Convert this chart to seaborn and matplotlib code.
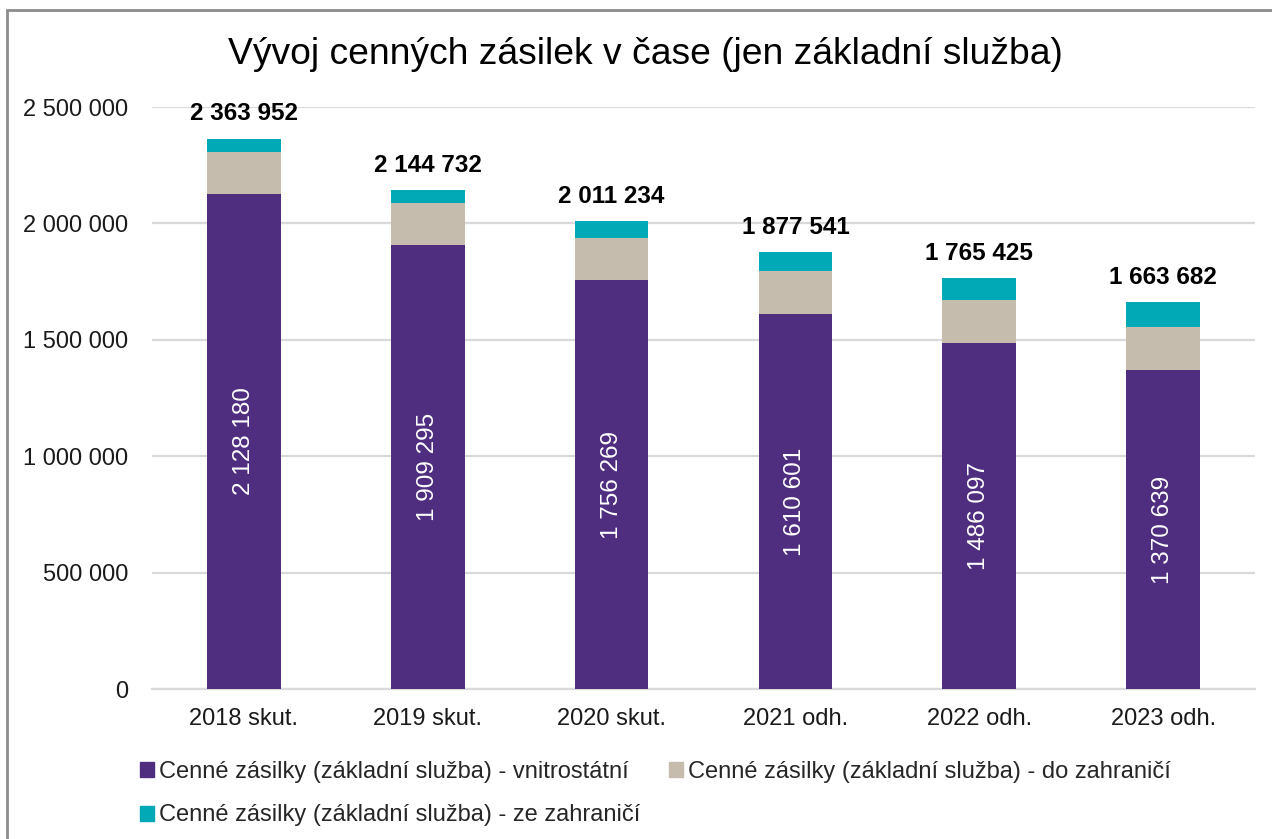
import matplotlib
matplotlib.use("Agg")
import matplotlib.pyplot as plt
import seaborn as sns
import numpy as np
from matplotlib.patches import Rectangle, Patch

years = ["2018 skut.", "2019 skut.", "2020 skut.", "2021 odh.", "2022 odh.", "2023 odh."]
domestic = [2128180, 1909295, 1756269, 1610601, 1486097, 1370639]
outgoing = [177000, 177000, 181000, 183000, 183000, 183500]
totals = [2363952, 2144732, 2011234, 1877541, 1765425, 1663682]
incoming = [t - d - o for t, d, o in zip(totals, domestic, outgoing)]

labels = ["Cenné zásilky (základní služba) - vnitrostátní",
          "Cenné zásilky (základní služba) - do zahraničí",
          "Cenné zásilky (základní služba) - ze zahraničí"]
colors = ["#4F2D7F", "#C5BCAE", "#00A9B5"]

sns.set_style("white")
plt.rcParams["font.family"] = ["Liberation Sans", "DejaVu Sans"]


def fmt(v):
    return f"{int(round(v)):,}".replace(",", " ")


fig = plt.figure(figsize=(12.72, 8.39), dpi=100)
ax = fig.add_axes([152 / 1272, 1 - 689 / 839, 1103 / 1272, 582 / 839])

bottom2 = np.array(domestic)
bottom3 = bottom2 + np.array(outgoing)
bar_kw = dict(saturation=1, width=0.4, ax=ax, zorder=3, linewidth=0)
sns.barplot(x=years, y=domestic, color=colors[0], **bar_kw)
sns.barplot(x=years, y=outgoing, bottom=bottom2, color=colors[1], **bar_kw)
sns.barplot(x=years, y=incoming, bottom=bottom3, color=colors[2], **bar_kw)

ax.set_ylim(0, 2500000)
ax.set_xlim(-0.5, len(years) - 0.5)
ax.set_yticks(np.arange(0, 2500001, 500000))
ax.set_yticklabels([fmt(v) for v in np.arange(0, 2500001, 500000)])
ax.yaxis.grid(True, color="#D9D9D9", linewidth=1.6, zorder=0)
ax.set_axisbelow(True)
for s in ["top", "right", "left"]:
    ax.spines[s].set_visible(False)
ax.spines["bottom"].set_color("#D9D9D9")
ax.spines["bottom"].set_linewidth(1.6)
ax.tick_params(axis="y", length=0, pad=17, labelsize=17, labelcolor="#1a1a1a")
ax.tick_params(axis="x", length=0, pad=14, labelsize=17, labelcolor="#1a1a1a")
ax.set_xlabel("")
ax.set_ylabel("")

for i in range(len(years)):
    ax.annotate(fmt(totals[i]), (i, totals[i]), xytext=(0, 9.5), textcoords="offset points",
                ha="center", va="bottom", fontsize=17.5, fontweight="bold", color="black")
    ax.text(i, domestic[i] / 2, fmt(domestic[i]), rotation=90, ha="center", va="center",
            color="white", fontsize=17.5)

fig.text(0.507, 1 - 55 / 839, "Vývoj cenných zásilek v čase (jen základní služba)",
         ha="center", va="center", fontsize=26.8, color="black")

handles = [Patch(color=c) for c in colors]
order = [0, 2, 1]
fig.legend([handles[k] for k in order], [labels[k] for k in order], ncol=2,
           loc="upper left", bbox_to_anchor=(119 / 1272, 1 - 740 / 839),
           frameon=False, fontsize=17, handlelength=0.6, handleheight=0.6,
           handletextpad=0.2, columnspacing=1.2, labelspacing=0.9)

fig.patches.append(Rectangle((7 / 1272, -0.1), 1.2, 1 - 10 / 839 + 0.1, transform=fig.transFigure,
                             fill=False, edgecolor="#8C8C8C", linewidth=2))

fig.savefig("out.png", dpi=100)
